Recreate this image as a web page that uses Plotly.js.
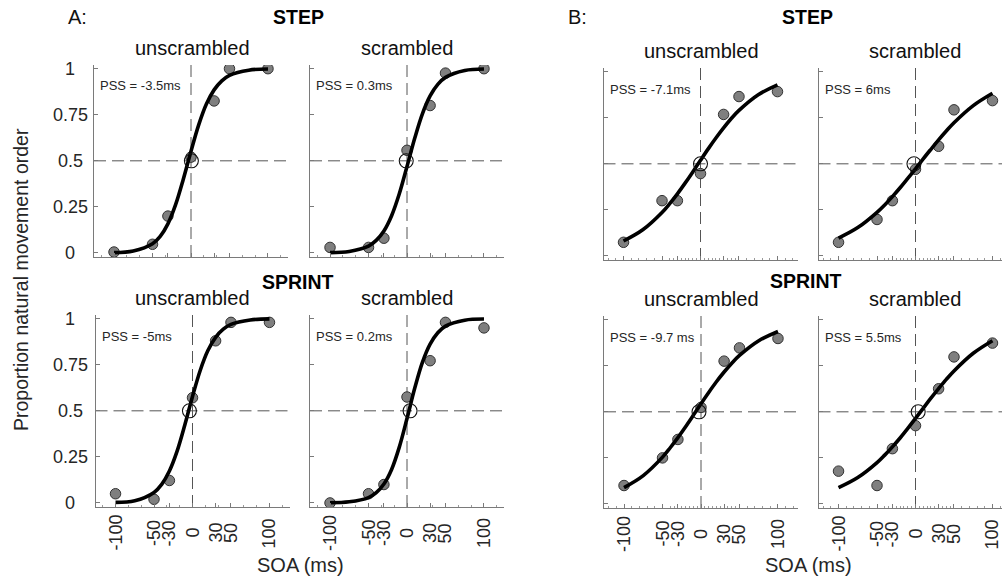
<!DOCTYPE html>
<html><head><meta charset="utf-8">
<script src="https://cdn.plot.ly/plotly-3.0.1.min.js"></script>
<style>html,body{margin:0;padding:0;background:#fff;overflow:hidden}</style>
</head><body><div id="chart" style="width:1002px;height:580px"></div>
<script>
// ---------- data ----------
const soa = [-100, -50, -30, 0, 30, 50, 100];
const soaTickLabels = ['-100', '-50', '-30', '0', '30', '50', '100'];
const propTicks = [0, 0.25, 0.5, 0.75, 1];
const propTickLabels = ['0', '0.25', '0.5', '0.75', '1'];
const curveSOA = [-100, -75, -50, -40, -30, -20, -10, 0, 10, 20, 30, 40, 50, 75, 100];

// A: observed proportions
const aStepUnscrObs   = [0.005, 0.047, 0.20, 0.52, 0.825, 1.0, 1.0];
const aStepScrObs     = [0.03, 0.03, 0.08, 0.557, 0.80, 0.976, 1.0];
const aSprintUnscrObs = [0.05, 0.02, 0.122, 0.571, 0.88, 0.98, 0.98];
const aSprintScrObs   = [0.0, 0.05, 0.10, 0.575, 0.772, 0.98, 0.95];
// B: observed proportions
const bStepUnscrObs   = [0.074, 0.30, 0.30, 0.447, 0.768, 0.865, 0.892];
const bStepScrObs     = [0.074, 0.198, 0.30, 0.47, 0.595, 0.793, 0.843];
const bSprintUnscrObs = [0.10, 0.25, 0.35, 0.524, 0.775, 0.847, 0.898];
const bSprintScrObs   = [0.178, 0.10, 0.30, 0.425, 0.625, 0.798, 0.873];

// fitted curves at curveSOA
const aStepUnscrFit   = [0.002,0.011,0.050,0.090,0.158,0.262,0.400,0.552,0.695,0.808,0.885,0.934,0.964,0.992,0.998];
const aStepScrFit     = [0.002,0.008,0.037,0.068,0.119,0.202,0.321,0.469,0.622,0.755,0.852,0.915,0.953,0.990,0.998];
const aSprintUnscrFit = [0.003,0.012,0.057,0.101,0.173,0.281,0.423,0.578,0.719,0.827,0.899,0.943,0.969,0.993,0.999];
const aSprintScrFit   = [0.001,0.006,0.029,0.056,0.103,0.182,0.303,0.458,0.622,0.763,0.862,0.924,0.960,0.992,0.998];
const bStepUnscrFit   = [0.081,0.142,0.236,0.284,0.337,0.395,0.456,0.519,0.581,0.640,0.695,0.746,0.790,0.875,0.929];
const bStepScrFit     = [0.097,0.154,0.237,0.277,0.322,0.370,0.421,0.473,0.527,0.579,0.630,0.678,0.723,0.816,0.883];
const bSprintUnscrFit = [0.089,0.154,0.254,0.305,0.360,0.419,0.481,0.544,0.605,0.663,0.716,0.764,0.806,0.886,0.936];
const bSprintScrFit   = [0.088,0.143,0.224,0.265,0.310,0.358,0.410,0.464,0.519,0.574,0.626,0.676,0.722,0.818,0.886];

// PSS open-circle positions (SOA at proportion 0.5)
const pssMarkerSOA = [0.5, -1, 0, -2, -4, 4, -2.6, 3.5];
const pssLevel = 0.5;
const pssLabels = ['PSS = -3.5ms', 'PSS = 0.3ms', 'PSS = -7.1ms', 'PSS = 6ms',
                   'PSS = -5ms', 'PSS = 0.2ms', 'PSS = -9.7 ms', 'PSS = 5.5ms'];
const conditionTitles = ['unscrambled', 'scrambled'];
const taskTitles = ['STEP', 'SPRINT'];
const groupTitles = ['A:', 'B:'];

// ---------- panels ----------
const W = 1002, H = 580;
const FONT = '"Liberation Sans", Arial, Helvetica, sans-serif';
const TXT = '#262626';
const AX = '#7a7a7a';
// order: 1 A-TL, 2 A-TR, 3 B-TL, 4 B-TR, 5 A-BL, 6 A-BR, 7 B-BL, 8 B-BR
const panels = [
  {obs: aStepUnscrObs,   fit: aStepUnscrFit,   box: [94, 65],    group: 'A', bottom: false},
  {obs: aStepScrObs,     fit: aStepScrFit,     box: [310, 65],   group: 'A', bottom: false},
  {obs: bStepUnscrObs,   fit: bStepUnscrFit,   box: [603.5, 68], group: 'B', bottom: false},
  {obs: bStepScrObs,     fit: bStepScrFit,     box: [818.5, 68], group: 'B', bottom: false},
  {obs: aSprintUnscrObs, fit: aSprintUnscrFit, box: [95.5, 315], group: 'A', bottom: true},
  {obs: aSprintScrObs,   fit: aSprintScrFit,   box: [310, 315],  group: 'A', bottom: true},
  {obs: bSprintUnscrObs, fit: bSprintUnscrFit, box: [604, 316],  group: 'B', bottom: true},
  {obs: bSprintScrObs,   fit: bSprintScrFit,   box: [818.5, 316],group: 'B', bottom: true},
];
const titleCenters = [192, 407, 701, 915, 192, 407, 701, 915];
const PW = 194, PH = 192;
const XR = [-126, 126], YR = [-0.022, 1.02];

function minorA() { const v = []; for (let t = -116.67; t <= 120; t += 100/6) v.push(t); return v; }
function minorB() { const v = []; for (let t = -120; t <= 120; t += (Math.abs(t) < 50 ? 5 : 10)) v.push(t); return v; }

const traces = [], shapes = [], annotations = [];
const layout = {
  width: W, height: H, margin: {l: 0, r: 0, t: 0, b: 0},
  paper_bgcolor: '#fff', plot_bgcolor: 'rgba(0,0,0,0)', showlegend: false,
  font: {family: FONT, color: TXT}
};

panels.forEach((p, i) => {
  const n = i + 1;
  const xa = n === 1 ? 'x' : 'x' + n, ya = n === 1 ? 'y' : 'y' + n;
  const [l, t] = p.box;
  const r = Math.min(W, l + PW);
  const xr1 = XR[0] + (r - l) / PW * (XR[1] - XR[0]);
  layout['xaxis' + (n === 1 ? '' : n)] = {
    domain: [l / W, r / W], range: [XR[0], xr1], anchor: ya,
    showline: true, linecolor: AX, linewidth: 1, mirror: false,
    ticks: 'inside', ticklen: 4, tickwidth: 1, tickcolor: AX,
    tickmode: 'array', tickvals: soa, showticklabels: false,
    showgrid: false, zeroline: false, fixedrange: true,
    minor: {tickmode: 'array', tickvals: p.group === 'A' ? minorA() : minorB(),
            ticks: 'inside', ticklen: 2, tickwidth: 1, tickcolor: '#9a9a9a', showgrid: false}
  };
  layout['yaxis' + (n === 1 ? '' : n)] = {
    domain: [1 - (t + PH) / H, 1 - t / H], range: YR, anchor: xa,
    showline: true, linecolor: AX, linewidth: 1,
    ticks: 'inside', ticklen: 4, tickwidth: 1, tickcolor: AX,
    tickmode: 'array', tickvals: propTicks, showticklabels: false,
    showgrid: false, zeroline: false, fixedrange: true
  };
  // dashed reference lines
  const dashLine = {color: '#555', width: 1, dash: '12px,6px'};
  shapes.push({type: 'line', layer: 'below', xref: xa + ' domain', x0: 0, x1: 1,
               yref: ya, y0: pssLevel, y1: pssLevel, line: dashLine});
  shapes.push({type: 'line', layer: 'below', xref: xa, x0: 0, x1: 0,
               yref: ya + ' domain', y0: 0, y1: 1, line: dashLine});
  // observed points
  traces.push({type: 'scatter', mode: 'markers', x: soa, y: p.obs, xaxis: xa, yaxis: ya,
    marker: {size: 10.5, color: '#7f7f7f', line: {color: '#333', width: 1}}, hoverinfo: 'skip'});
  // fitted curve
  traces.push({type: 'scatter', mode: 'lines', x: curveSOA, y: p.fit, xaxis: xa, yaxis: ya,
    line: {color: '#000', width: 3.6, shape: 'spline', smoothing: 1}, hoverinfo: 'skip'});
  // PSS marker
  traces.push({type: 'scatter', mode: 'markers', x: [pssMarkerSOA[i]], y: [pssLevel], xaxis: xa, yaxis: ya,
    marker: {symbol: 'circle-open', size: 14, color: '#111', line: {width: 1.1}}, hoverinfo: 'skip'});
  // PSS label
  annotations.push({text: pssLabels[i], xref: 'paper', yref: 'paper',
    x: (l + 4) / W, y: 1 - (t + 21) / H, xanchor: 'left', yanchor: 'middle', showarrow: false,
    font: {size: 13, color: TXT}});
  // condition title
  annotations.push({text: conditionTitles[i % 2], xref: 'paper', yref: 'paper',
    x: titleCenters[i] / W, y: 1 - (t - 17) / H, xanchor: 'center', yanchor: 'middle',
    showarrow: false, font: {size: 20, color: '#111'}});
  // x tick labels on bottom row
  if (p.bottom) {
    soa.forEach((v, k) => annotations.push({text: soaTickLabels[k], xref: xa, yref: ya + ' domain',
      x: v, y: -26 / PH, textangle: -90, xanchor: 'center', yanchor: 'middle', showarrow: false,
      font: {size: 18, color: TXT}}));
  }
  // y tick labels on the left column of A
  if (p.group === 'A' && i % 2 === 0) {
    propTicks.forEach((v, k) => annotations.push({text: propTickLabels[k], xref: 'paper', yref: ya,
      x: 70 / W, y: v, xanchor: 'center', yanchor: 'middle', showarrow: false,
      font: {size: 18, color: TXT}}));
  }
});

// group / task titles
const px = v => v / W, py = v => 1 - v / H;
[[groupTitles[0], 77, 17], [groupTitles[1], 577, 17]].forEach(([s, x, y]) =>
  annotations.push({text: s, xref: 'paper', yref: 'paper', x: px(x), y: py(y), xanchor: 'center',
    yanchor: 'middle', showarrow: false, font: {size: 20, color: '#111'}}));
[[taskTitles[0], 298, 17], [taskTitles[0], 807, 17], [taskTitles[1], 298, 282], [taskTitles[1], 806, 281]]
  .forEach(([s, x, y]) => annotations.push({text: '<b>' + s + '</b>', xref: 'paper', yref: 'paper',
    x: px(x), y: py(y), xanchor: 'center', yanchor: 'middle', showarrow: false,
    font: {size: 19.5, color: '#000'}}));
// axis titles
[[300, 565], [808, 565]].forEach(([x, y]) => annotations.push({text: 'SOA (ms)', xref: 'paper', yref: 'paper',
  x: px(x), y: py(y), xanchor: 'center', yanchor: 'middle', showarrow: false, font: {size: 20, color: TXT}}));
annotations.push({text: 'Proportion natural movement order', xref: 'paper', yref: 'paper',
  x: px(21), y: py(280), textangle: -90, xanchor: 'center', yanchor: 'middle', showarrow: false,
  font: {size: 19.5, color: TXT}});

layout.shapes = shapes;
layout.annotations = annotations;
Plotly.newPlot('chart', traces, layout, {staticPlot: true, displayModeBar: false});
</script>
</body></html>
